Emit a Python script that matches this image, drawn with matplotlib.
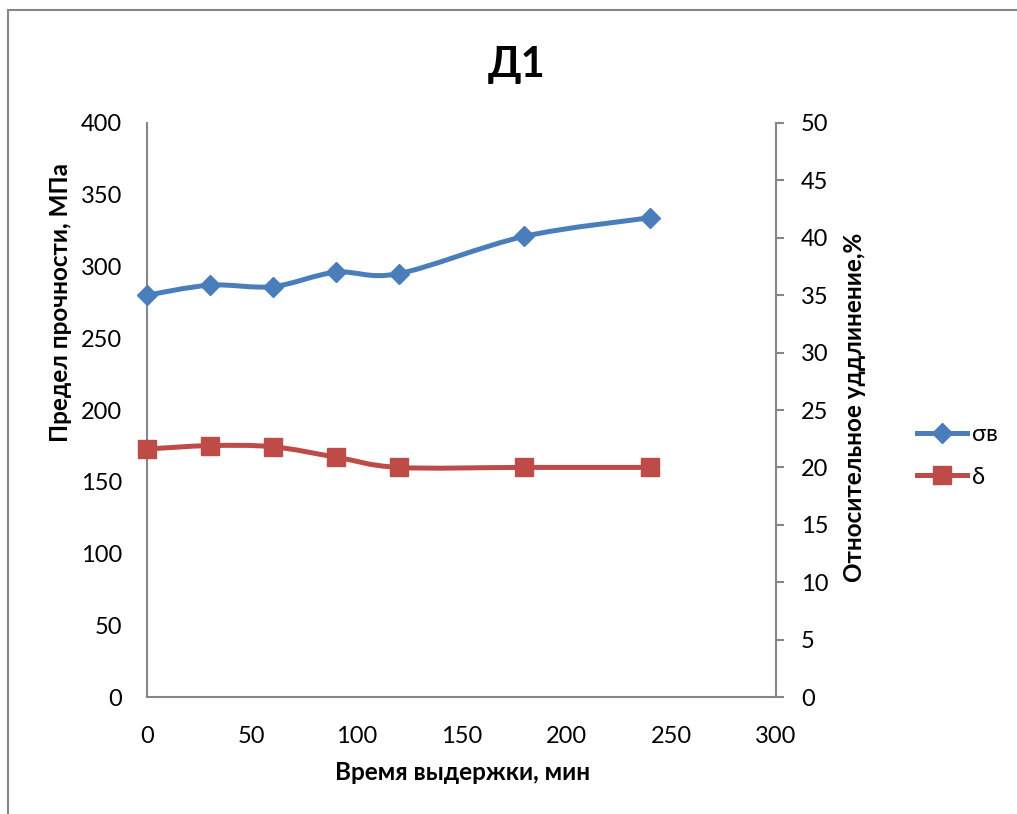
import numpy as np
import matplotlib
matplotlib.use('Agg')
import matplotlib.pyplot as plt
from matplotlib.path import Path
from matplotlib.patches import PathPatch, Rectangle
from matplotlib.lines import Line2D

plt.rcParams['font.family'] = ['Lato', 'DejaVu Sans']

time_min = [0, 30, 60, 90, 120, 180, 240]
strength = [280, 287, 286, 296, 295, 321, 334]
elongation = [21.6, 21.9, 21.8, 20.9, 20.0, 20.0, 20.0]
x_ticks = [0, 50, 100, 150, 200, 250, 300]
left_ticks = [0, 50, 100, 150, 200, 250, 300, 350, 400]
right_ticks = [0, 5, 10, 15, 20, 25, 30, 35, 40, 45, 50]

BLUE = '#4A7EBB'
RED = '#BE4B48'
GRAY = '#868686'


def smooth_path(xs, ys):
    # Excel-like smoothed line: cubic bezier segments
    pts = np.column_stack([xs, ys]).astype(float)
    n = len(pts)
    verts = [pts[0]]
    codes = [Path.MOVETO]
    for i in range(n - 1):
        p0 = pts[max(i - 1, 0)]
        p1 = pts[i]
        p2 = pts[i + 1]
        p3 = pts[min(i + 2, n - 1)]
        c1 = p1 + (p2 - p0) / 6.0
        c2 = p2 - (p3 - p1) / 6.0
        verts += [c1, c2, p2]
        codes += [Path.CURVE4] * 3
    return Path(verts, codes)


fig = plt.figure(figsize=(10.17, 8.14), dpi=100)
fig.patches.append(Rectangle((8 / 1017, -0.1), 1.2, 1 - 10 / 814 + 0.1,
                             transform=fig.transFigure, fill=False,
                             edgecolor=GRAY, linewidth=1.5))

ax = fig.add_axes([0.1445, 0.1437, 0.6185, 0.7052])
ax2 = ax.twinx()

ax.add_patch(PathPatch(smooth_path(time_min, strength), fill=False,
                       edgecolor=BLUE, linewidth=3.6, capstyle='round',
                       joinstyle='round', zorder=3))
ax.plot(time_min, strength, linestyle='none', marker='D', markersize=10,
        color=BLUE, zorder=4, clip_on=False)

ax2.add_patch(PathPatch(smooth_path(time_min, elongation), fill=False,
                        edgecolor=RED, linewidth=3.6, capstyle='round',
                        joinstyle='round', zorder=3))
ax2.plot(time_min, elongation, linestyle='none', marker='s', markersize=13,
         color=RED, zorder=4, clip_on=False)

ax.set_xlim(0, 300)
ax.set_ylim(0, 400)
ax2.set_ylim(0, 50)
ax.set_xticks(x_ticks)
ax.set_yticks(left_ticks)
ax2.set_yticks(right_ticks)

for a in (ax, ax2):
    a.spines['top'].set_visible(False)
    for s in ('left', 'bottom', 'right'):
        a.spines[s].set_color(GRAY)
        a.spines[s].set_linewidth(1.5)
ax.spines['right'].set_visible(False)
ax2.spines['left'].set_visible(False)
ax2.spines['bottom'].set_visible(False)

ax.tick_params(axis='both', length=0, labelsize=17)
ax.tick_params(axis='x', pad=21)
ax.tick_params(axis='y', pad=18)
ax2.tick_params(axis='y', length=6, width=1.5, color=GRAY, direction='out',
                labelsize=17, pad=12)

ax.set_xlabel('Время выдержки, мин', fontsize=17.5, fontweight='bold')
ax.set_ylabel('Предел прочности, МПа', fontsize=17.5, fontweight='bold')
ax2.set_ylabel('Относительное уддлинение,%', fontsize=17.5, fontweight='bold')
ax.xaxis.set_label_coords(0.502, -0.132)
ax.yaxis.set_label_coords(-0.138, 0.688)
ax2.yaxis.set_label_coords(1.1256, 0.505)
ax.xaxis.label.set_va('center')
ax.yaxis.label.set_va('center')
ax2.yaxis.label.set_va('center')

fig.text(517 / 1017, 1 - 65 / 814, 'Д1', fontsize=30, fontweight='bold',
         ha='center', va='center')

handles = [Line2D([], [], color=BLUE, linewidth=3.6, marker='D', markersize=10),
           Line2D([], [], color=RED, linewidth=3.6, marker='s', markersize=13)]
fig.legend(handles, ['σв', 'δ'], loc='center left',
           bbox_to_anchor=(896 / 1017, 1 - 456 / 814), frameon=False,
           fontsize=17, handlelength=2.1, handletextpad=0.2, labelspacing=0.9)

fig.savefig('out.png', dpi=100)
